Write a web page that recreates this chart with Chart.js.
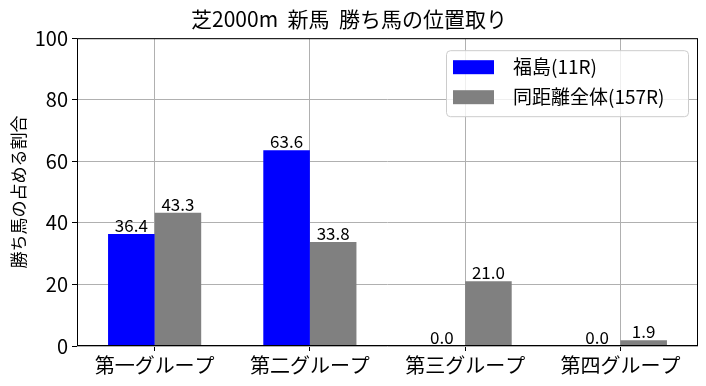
<!DOCTYPE html>
<html>
<head>
<meta charset="utf-8">
<script src="https://cdn.jsdelivr.net/npm/chart.js@4"></script>
<style>
  html, body { margin: 0; padding: 0; background: #fff; }
  #wrap { width: 706px; height: 386px; }
</style>
</head>
<body>
<div id="wrap"><canvas id="myChart" width="706" height="386"></canvas></div>
<script>
// 芝2000m 新馬 勝ち馬の位置取り
const categories = ['第一グループ', '第二グループ', '第三グループ', '第四グループ'];
const fukushimaValues = [36.4, 63.6, 0.0, 0.0];
const allValues = [43.3, 33.8, 21.0, 1.9];
const seriesNames = ['福島(11R)', '同距離全体(157R)'];
const seriesColors = ['#0000ff', '#808080'];
const yTicks = [0, 20, 40, 60, 80, 100];

const FONT = "'Noto Sans CJK JP', 'Noto Sans', sans-serif";

// frame, value labels and an in-plot legend
const extras = {
    id: 'extras',
    afterDraw(chart) {
        const ctx = chart.ctx;
        const area = chart.chartArea;
        ctx.save();

        // value labels above bars
        ctx.fillStyle = '#000';
        ctx.font = '17px ' + FONT;
        ctx.textAlign = 'center';
        ctx.textBaseline = 'bottom';
        chart.data.datasets.forEach((ds, i) => {
            const meta = chart.getDatasetMeta(i);
            meta.data.forEach((bar, j) => {
                ctx.fillText(ds.data[j].toFixed(1), bar.x, bar.y);
            });
        });

        // frame
        ctx.strokeStyle = '#000';
        ctx.lineWidth = 1;
        ctx.strokeRect(area.left + 0.5, area.top + 0.5, area.right - area.left - 1, area.bottom - area.top - 1);

        // legend
        const w = 242, h = 66;
        const lx = area.right - 10 - w;
        const ly = area.top + 12;
        ctx.beginPath();
        ctx.roundRect(lx + 0.5, ly + 0.5, w, h, 4);
        ctx.fillStyle = 'rgba(255,255,255,0.8)';
        ctx.fill();
        ctx.strokeStyle = '#cccccc';
        ctx.stroke();
        ctx.font = '19px ' + FONT;
        ctx.textAlign = 'left';
        ctx.textBaseline = 'middle';
        seriesNames.forEach((name, i) => {
            const cy = ly + 17 + i * 30;
            ctx.fillStyle = seriesColors[i];
            ctx.fillRect(lx + 7, cy - 7, 41, 14);
            ctx.fillStyle = '#000';
            ctx.fillText(name, lx + 67, cy);
        });

        ctx.restore();
    }
};

function renderChart() {
    const ctx = document.getElementById('myChart').getContext('2d');
    new Chart(ctx, {
        type: 'bar',
        data: {
            labels: categories,
            datasets: [{
                label: seriesNames[0],
                data: fukushimaValues,
                backgroundColor: seriesColors[0],
                borderWidth: 0,
                categoryPercentage: 0.6,
                barPercentage: 1.0
            }, {
                label: seriesNames[1],
                data: allValues,
                backgroundColor: seriesColors[1],
                borderWidth: 0,
                categoryPercentage: 0.6,
                barPercentage: 1.0
            }]
        },
        options: {
            responsive: false,
            animation: false,
            layout: { padding: { left: 0, right: 8, top: 0, bottom: 0 } },
            plugins: {
                legend: { display: false },
                tooltip: { enabled: false },
                title: {
                    display: true,
                    text: '芝2000m  新馬  勝ち馬の位置取り',
                    color: '#000',
                    font: { family: FONT, size: 21, weight: 'normal' },
                    padding: { top: 6, bottom: 7 }
                }
            },
            scales: {
                x: {
                    z: 1,
                    offset: true,
                    grid: {
                        offset: false,
                        color: '#b0b0b0',
                        tickColor: '#000',
                        tickLength: 5,
                        lineWidth: 1
                    },
                    border: { display: false },
                    ticks: {
                        color: '#000',
                        font: { family: FONT, size: 20 },
                        padding: 2,
                        maxRotation: 0
                    },
                    afterFit(scale) { scale.height = 40; }
                },
                y: {
                    z: 1,
                    min: 0,
                    max: 100,
                    afterBuildTicks(scale) { scale.ticks = yTicks.map(v => ({ value: v })); },
                    grid: {
                        color: '#b0b0b0',
                        tickColor: '#000',
                        tickLength: 5,
                        lineWidth: 1
                    },
                    border: { display: false },
                    ticks: {
                        color: '#000',
                        font: { family: FONT, size: 20 },
                        padding: 4
                    },
                    title: {
                        display: true,
                        text: '勝ち馬の占める割合',
                        color: '#000',
                        font: { family: FONT, size: 17 },
                        padding: { top: 8, bottom: 0 }
                    },
                    afterFit(scale) { scale.width = 77; }
                }
            }
        },
        plugins: [extras]
    });
}

document.addEventListener('DOMContentLoaded', renderChart);
</script>
</body>
</html>
